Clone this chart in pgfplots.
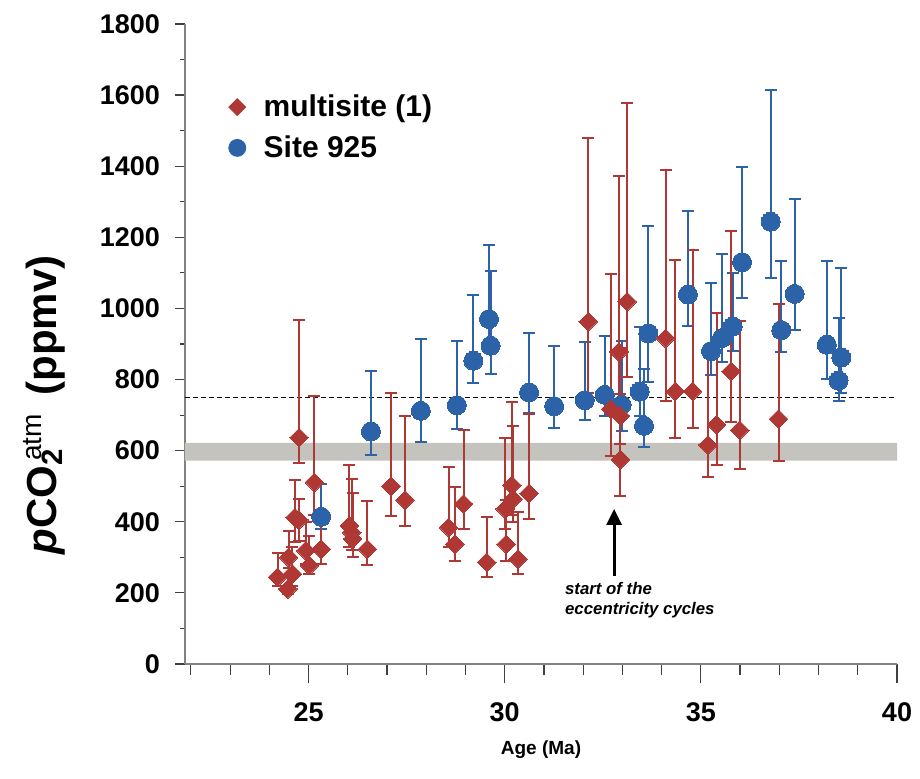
\documentclass[border=0pt]{standalone}
\usepackage{pgfplots}
\pgfplotsset{compat=1.18}
\usepackage{pgfplotstable}
\usepackage{fontspec}
\setmainfont{Liberation Sans}
\usetikzlibrary{arrows.meta,calc}
\definecolor{redm}{RGB}{175,56,52}
\definecolor{bluem}{RGB}{44,99,168}
\definecolor{bandg}{RGB}{196,195,190}
\definecolor{axg}{RGB}{130,130,130}

\pgfplotstableread{
x y ep em
24.21 244 67 25
24.47 211 40 15
24.49 300 75 30
24.59 253 77 33
24.65 412 105 70
24.75 405 60 60
24.76 637 330 73
24.93 319 81 39
25.02 277 83 24
25.15 511 242 91
25.32 323 87 43
26.04 389 171 59
26.10 370 150 50
26.12 352 128 52
26.50 323 136 44
27.10 500 262 85
27.46 461 237 72
28.57 384 169 56
28.73 337 160 48
28.95 450 208 70
29.54 286 128 40
30.01 436 201 56
30.04 337 123 47
30.18 503 233 83
30.21 464 206 64
30.34 295 132 42
30.62 480 223 72
32.13 963 517 201
32.70 717 380 133
32.91 878 495 178
32.95 698 190 78
33.12 1019 559 213
32.95 575 185 102
34.10 916 474 175
34.35 767 368 131
34.79 767 398 103
35.18 616 265 91
35.40 673 314 113
35.77 823 396 141
35.99 658 306 110
36.98 689 324 119
}\redtab

\pgfplotstableread{
x y ep em
25.32 414 92 34
26.59 654 171 66
27.86 712 202 87
28.78 728 181 68
29.20 853 185 63
29.60 970 207 90
29.64 895 209 78
30.62 764 166 57
31.26 725 168 62
32.04 742 163 55
32.55 757 166 59
32.98 729 180 75
33.44 766 181 68
33.55 670 160 59
33.66 930 301 138
34.67 1039 236 87
35.26 880 192 66
35.54 917 236 67
35.81 949 151 68
36.05 1130 269 101
36.78 1244 371 158
37.05 939 195 62
37.39 1041 267 103
38.21 898 236 96
38.58 862 252 100
38.51 797 176 58
}\bluetab

\begin{document}
\begin{tikzpicture}
\begin{axis}[
  scale only axis, width=356pt, height=320pt,
  xmin=21.85, xmax=40, ymin=0, ymax=1800,
  axis x line=bottom, axis y line=left,
  axis line style={-, axg, line width=0.6pt},
  xtick={25,30,35,40}, minor xtick={22,23,24,26,27,28,29,31,32,33,34,36,37,38,39},
  ytick={0,200,...,1800}, minor ytick={100,300,...,1700},
  tick align=outside,
  major tick length=5pt, minor tick length=2.5pt,
  major x tick style={/pgfplots/major tick length=9.5pt},
  minor x tick style={/pgfplots/minor tick length=5.5pt},
  tick style={black!75, line width=0.6pt},
  tick label style={font=\fontsize{13.5}{15}\selectfont\bfseries},
  yticklabel style={xshift=-4pt},
  xticklabel style={yshift=-11pt},
  /pgf/number format/assume math mode=true,
  /pgf/number format/1000 sep={},
  clip=false,
  legend style={draw=none, fill=none, at={(rel axis cs:0.04,0.9025)}, anchor=north west,
    font=\fontsize{15}{18}\selectfont\bfseries, row sep=4pt},
  legend cell align=left,
  legend image code/.code={\path (0pt,0pt) (19.5pt,0pt); \draw[#1] plot coordinates {(8.5pt,0pt)};},
]
\coordinate (BL) at (rel axis cs:0,0);
\coordinate (TR) at (rel axis cs:1,1);
\addlegendimage{only marks, mark=square*, mark size=3pt, mark options={rotate=45, fill=redm, draw=redm}}
\addlegendentry{multisite (1)}
\addlegendimage{only marks, mark=*, mark size=4.25pt, mark options={fill=bluem, draw=bluem}}
\addlegendentry{Site 925}

\addplot[fill=bandg, draw=none, forget plot] coordinates {(21.85,572) (40,572) (40,622) (21.85,622) (21.85,572)};
\addplot[black, line width=0.5pt, dash pattern=on 2.5pt off 1.5pt, forget plot] coordinates {(21.85,750) (40,750)};

\addplot[only marks, mark=*, mark size=4.75pt, mark options={fill=bluem, draw=bluem, line width=0pt}, forget plot,
  error bars/.cd, y dir=both, y explicit,
  error bar style={bluem, line width=1pt},
  error mark options={rotate=90, mark size=3pt, line width=1pt, bluem}]
  table[x=x, y=y, y error plus=ep, y error minus=em] {\bluetab};

\addplot[only marks, mark=square*, mark size=3.3pt, mark options={rotate=45, fill=redm, draw=redm, line width=0pt}, forget plot,
  error bars/.cd, y dir=both, y explicit,
  error bar style={redm, line width=1pt},
  error mark options={rotate=90, mark size=3pt, line width=1pt, redm}]
  table[x=x, y=y, y error plus=ep, y error minus=em] {\redtab};

\addplot[black, line width=1.5pt, -{Triangle[length=8pt,width=7.5pt]}, forget plot] coordinates {(32.79,248) (32.79,436)};

\node[anchor=north west, align=left, font=\fontsize{8.4}{10}\selectfont\bfseries\itshape, inner sep=0pt] at (axis cs:31.53,232) {start of the\\eccentricity cycles};
\node[rotate=90, font=\fontsize{21}{23}\selectfont\bfseries] at (rel axis cs:-0.198,0.405) {\textit{p}CO\rlap{\textsubscript{2}}{\fontsize{14}{15}\selectfont\mdseries\raisebox{0.55em}{\,atm}}\, (ppmv)};
\node[font=\fontsize{9.5}{11}\selectfont\bfseries] at (rel axis cs:0.5,-0.134) {Age (Ma)};
\end{axis}
\pgfresetboundingbox
\useasboundingbox ($(BL)+(-92.5pt,-57.5pt)$) rectangle ($(TR)+(11.5pt,12pt)$);
\end{tikzpicture}
\end{document}
